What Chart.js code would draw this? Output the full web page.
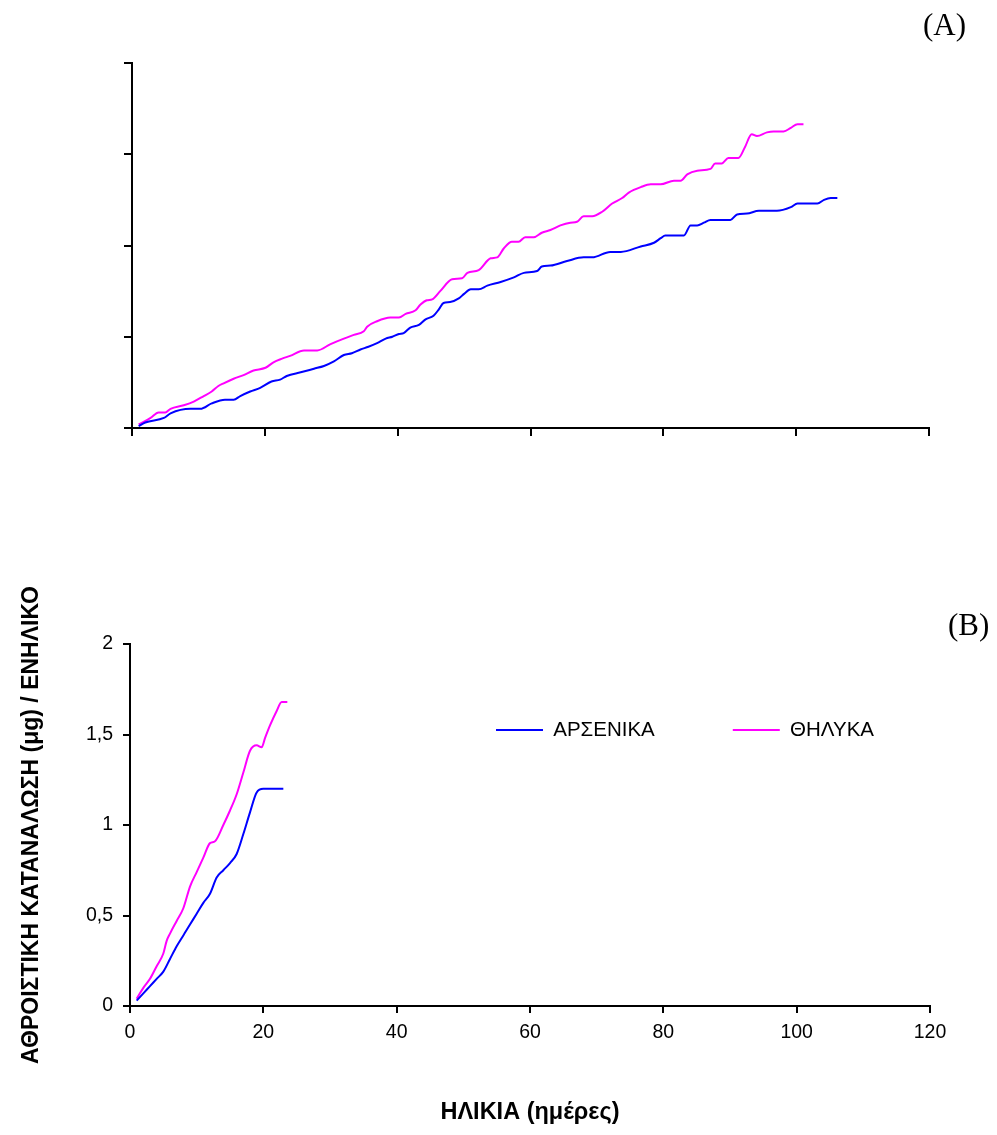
<!DOCTYPE html>
<html>
<head>
<meta charset="utf-8">
<script src="https://cdn.jsdelivr.net/npm/chart.js@4.4.1/dist/chart.umd.min.js"></script>
<style>
  html, body { margin: 0; padding: 0; background: #fff; }
  body { width: 997px; height: 1135px; position: relative; overflow: hidden; }
  #wrapA { position: absolute; left: 0; top: 0; width: 997px; height: 480px; }
  #wrapB { position: absolute; left: 0; top: 560px; width: 997px; height: 575px; }
  .panel { position: absolute; font-family: "Liberation Serif", "Times New Roman", serif; font-size: 31px; color: #000; line-height: 1; }
</style>
</head>
<body>
<div id="wrapA"><canvas id="chartA"></canvas></div>
<div id="wrapB"><canvas id="chartB"></canvas></div>
<div class="panel" style="left:923px; top:9px;">(A)</div>
<div class="panel" style="left:948px; top:609px;">(B)</div>
<script>
// ---- Panel A: cumulative consumption per adult (axis values unlabelled) ----
const daysA_male = [1,2,4.8,5.8,8.8,10.3,12,14,15.3,16.3,17.8,19.3,21,22.3,23.3,25.4,27.4,28.9,30.4,31.9,33.1,34.4,35.6,36.9,38.2,39.2,40.2,40.9,41.9,43.2,44.2,45.4,46.2,46.9,47.9,49.2,50,51,52.2,53.5,55.5,57.5,59,61,61.7,63,65.5,68,69.3,72,73.6,76.6,78.6,79.6,80.3,83.1,84.1,85.1,86.1,87.1,90.1,91.1,92.6,94.4,97.1,99.2,100.2,103.2,104.2,105.2,106.2];
const cumA_male  = [0.02,0.06,0.11,0.16,0.21,0.21,0.27,0.31,0.31,0.35,0.40,0.44,0.51,0.53,0.57,0.61,0.65,0.68,0.73,0.80,0.82,0.86,0.89,0.93,0.98,1.00,1.03,1.04,1.10,1.13,1.19,1.23,1.30,1.37,1.38,1.42,1.47,1.52,1.52,1.56,1.60,1.65,1.70,1.72,1.77,1.78,1.83,1.87,1.87,1.93,1.93,1.99,2.03,2.08,2.11,2.11,2.22,2.22,2.25,2.28,2.28,2.34,2.35,2.38,2.38,2.42,2.46,2.46,2.50,2.52,2.52];

const daysA_female = [1,2.8,4,5,5.8,7.8,9.3,10.8,12,13,13.8,15.3,16.8,18.3,20.1,21.3,22.6,23.8,25.9,27.9,29.9,31.9,33.4,34.9,35.4,36.9,38.9,40.2,41.2,42.7,43.4,44.4,45.2,46.4,48.2,49.7,50.5,52.2,54,55,56,57.2,58.2,59.2,60.5,61.7,63,64.5,66,67,68,69.3,70.8,72.3,73.8,74.8,76.6,78.1,79.6,81.6,82.6,83.6,85.1,87.1,87.8,88.8,89.8,91.3,92.3,93.3,94.1,95.6,96.6,98.1,99.2,100.2,101.1];
const cumA_female  = [0.04,0.11,0.17,0.17,0.21,0.25,0.29,0.35,0.40,0.46,0.49,0.54,0.58,0.63,0.66,0.72,0.76,0.79,0.85,0.85,0.92,0.98,1.02,1.06,1.11,1.17,1.21,1.21,1.25,1.29,1.35,1.40,1.41,1.50,1.63,1.64,1.70,1.73,1.86,1.87,1.97,2.04,2.04,2.09,2.09,2.14,2.17,2.22,2.25,2.26,2.32,2.32,2.37,2.46,2.52,2.58,2.64,2.67,2.67,2.71,2.71,2.78,2.82,2.84,2.90,2.90,2.96,2.96,3.08,3.22,3.20,3.24,3.25,3.25,3.29,3.33,3.33];

// ---- Panel B: cumulative consumption (μg) per adult ----
const daysB_male = [1,2,3,4,5,6,7,8,9,10,11,12,13,14,15,16,17,18,19,20,21,22,23];
const cumB_male  = [0.03,0.07,0.11,0.15,0.19,0.26,0.33,0.39,0.45,0.51,0.57,0.62,0.71,0.75,0.79,0.84,0.95,1.07,1.18,1.20,1.20,1.20,1.20];

const daysB_female = [1,2,3,4,5,5.5,6,7,8,9,10,11,12,12.75,14,15,16,17,18,19,19.75,20.25,21,22,22.75,23.6];
const cumB_female  = [0.04,0.10,0.15,0.22,0.29,0.36,0.40,0.47,0.54,0.66,0.74,0.82,0.90,0.91,1.00,1.08,1.17,1.29,1.41,1.44,1.43,1.48,1.55,1.63,1.68,1.68];

const seriesNames = ['ΑΡΣΕΝΙΚΑ', 'ΘΗΛΥΚΑ'];
const xTicksB = [0, 20, 40, 60, 80, 100, 120];
const yTicksB = ['0', '0,5', '1', '1,5', '2'];
const xTitleB = 'ΗΛΙΚΙΑ (ημέρες)';
const yTitleB = 'ΑΘΡΟΙΣΤΙΚΗ ΚΑΤΑΝΑΛΩΣΗ (μg) / ΕΝΗΛΙΚΟ';

const MALE_COLOR = '#0000FF';
const FEMALE_COLOR = '#FF00FF';
const SANS = '"Liberation Sans", Arial, sans-serif';

function points(xs, ys) {
  return xs.map((x, i) => ({ x, y: ys[i] }));
}

function lineDataset(label, xs, ys, color) {
  return {
    label,
    data: points(xs, ys),
    borderColor: color,
    backgroundColor: color,
    borderWidth: 2,
    pointRadius: 0,
    pointHoverRadius: 0,
    cubicInterpolationMode: 'monotone',
    fill: false
  };
}

function axisStyle(extra) {
  return Object.assign({
    type: 'linear',
    border: { display: true, color: '#000', width: 2 },
    grid: { drawOnChartArea: false, drawTicks: true, color: '#000', lineWidth: 2 }
  }, extra);
}

Chart.defaults.font.family = SANS;
Chart.defaults.color = '#000';

// Panel A: same axes as B but without any numbers
new Chart(document.getElementById('chartA'), {
  type: 'line',
  data: {
    datasets: [
      lineDataset(seriesNames[0], daysA_male, cumA_male, MALE_COLOR),
      lineDataset(seriesNames[1], daysA_female, cumA_female, FEMALE_COLOR)
    ]
  },
  options: {
    responsive: true,
    maintainAspectRatio: false,
    animation: false,
    devicePixelRatio: 1,
    layout: { padding: { top: 63, right: 68, left: 0, bottom: 0 } },
    plugins: { legend: { display: false }, tooltip: { enabled: false } },
    scales: {
      x: axisStyle({
        min: 0, max: 120,
        ticks: { stepSize: 20, display: false },
        grid: { drawOnChartArea: false, drawTicks: true, tickLength: 8, color: '#000', lineWidth: 2 },
        afterFit(s) { s.height = 52; }
      }),
      y: axisStyle({
        min: 0, max: 4,
        ticks: { stepSize: 1, display: false },
        grid: { drawOnChartArea: false, drawTicks: true, tickLength: 8, color: '#000', lineWidth: 2 },
        afterFit(s) { s.width = 132; }
      })
    }
  }
});

// Lays the legend out as one row and moves it inside the plot area,
// to the right of the curves.
const legendPlacer = {
  id: 'legendPlacer',
  beforeLayout(chart) {
    if (chart.legend) chart.legend.isHorizontal = () => true;
  },
  afterLayout(chart) {
    const lg = chart.legend;
    if (!lg) return;
    const pad = lg.options.labels.padding;
    const fs = lg.options.labels.font.size;
    const h = lg.height;
    lg.left = 496 - pad;
    lg.top = 170 - fs / 2 - pad;
    lg.right = lg.left + 700;
    lg.bottom = lg.top + h;
    lg.width = 700;
  }
};

new Chart(document.getElementById('chartB'), {
  type: 'line',
  data: {
    datasets: [
      lineDataset(seriesNames[0], daysB_male, cumB_male, MALE_COLOR),
      lineDataset(seriesNames[1], daysB_female, cumB_female, FEMALE_COLOR)
    ]
  },
  plugins: [legendPlacer],
  options: {
    responsive: true,
    maintainAspectRatio: false,
    animation: false,
    devicePixelRatio: 1,
    layout: { padding: { top: 84, right: 67, left: 0, bottom: 0 } },
    plugins: {
      tooltip: { enabled: false },
      legend: {
        display: true,
        position: 'chartArea',
        align: 'start',
        labels: {
          usePointStyle: true,
          pointStyle: 'line',
          pointStyleWidth: 47,
          padding: 78,
          color: '#000',
          font: { family: SANS, size: 20.5 }
        }
      }
    },
    scales: {
      x: axisStyle({
        min: 0, max: 120,
        afterBuildTicks(s) { s.ticks = xTicksB.map(v => ({ value: v })); },
        ticks: { font: { family: SANS, size: 19.5 }, color: '#000', padding: 8, maxRotation: 0,
                 callback: (v) => String(v) },
        grid: { drawOnChartArea: false, drawTicks: true, tickLength: 7, color: '#000', lineWidth: 2 },
        title: { display: true, text: xTitleB, color: '#000',
                 font: { family: SANS, size: 23.5, weight: 'bold' }, padding: { top: 0, bottom: 8 } },
        afterFit(s) { s.height = 129; }
      }),
      y: axisStyle({
        min: 0, max: 2,
        ticks: { stepSize: 0.5, font: { family: SANS, size: 19.5 }, color: '#000', padding: 10,
                 callback: (v, i) => yTicksB[i] },
        grid: { drawOnChartArea: false, drawTicks: true, tickLength: 7, color: '#000', lineWidth: 2 },
        title: { display: true, text: yTitleB, color: '#000',
                 font: { family: SANS, size: 23, weight: 'bold' }, padding: { top: 18, bottom: 0 } },
        afterFit(s) { s.width = 130; }
      })
    }
  }
});
</script>
</body>
</html>
